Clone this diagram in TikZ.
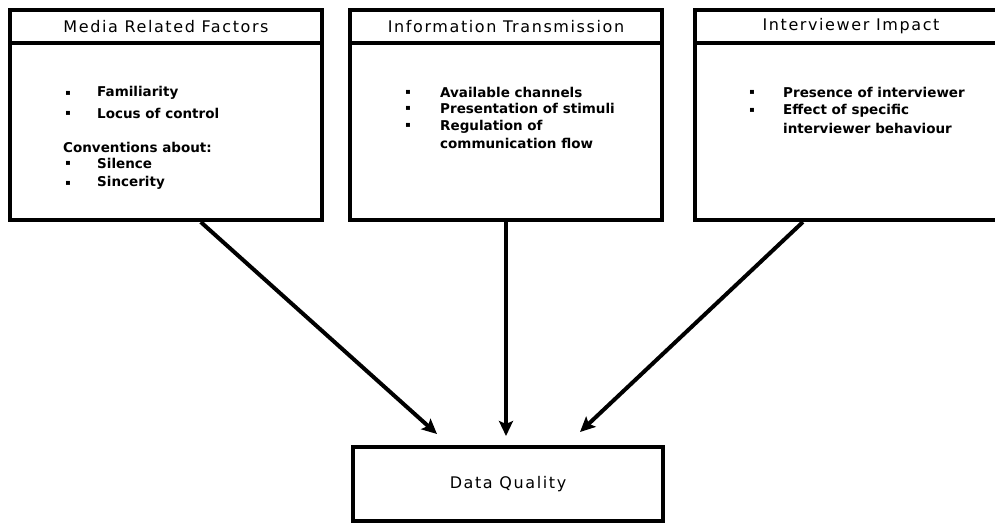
\documentclass[tikz,border=0pt]{standalone}
\usepackage{fontspec}
\setmainfont{DejaVu Sans}
\newfontfamily\headfont[LetterSpace=10]{DejaVu Sans}
\usetikzlibrary{arrows.meta}

\tikzset{
    box/.style={draw, line width=4pt, rectangle, inner sep=0pt},
    head/.style={box, minimum width=312pt, minimum height=33pt, font=\headfont\fontsize{16}{18}\selectfont},
    body/.style={box, minimum width=312pt, minimum height=177pt},
    item/.style={anchor=west, inner sep=0pt, align=left, font=\bfseries\fontsize{13.5}{18.5}\selectfont},
    dot/.style={inner sep=0pt, font=\fontsize{8}{8}\selectfont},
    flow/.style={line width=4pt, -{Stealth[length=15pt,width=14pt,inset=3pt]}}
}

\begin{document}
\begin{tikzpicture}[x=1pt, y=-1pt]
    \useasboundingbox (0,0) rectangle (995,523);

    \node[head] (mrfH) at (166, 26.5) {Media Related Factors};
    \node[body] (mrf) at (166, 131.5) {};
    \node[dot] (d0) at (68, 93) {▪};
    \node[item] (f0) at (97, 93) {Familiarity};
    \node[dot] (d1) at (68, 113) {▪};
    \node[item] (f1) at (97, 113) {Locus of control};
    \node[item] (f2) at (63, 147) {Conventions about:};
    \node[dot] (d2) at (68, 163) {▪};
    \node[item] (f3) at (97, 163) {Silence};
    \node[dot] (d3) at (68, 183) {▪};
    \node[item] (f4) at (97, 183) {Sincerity};

    \node[head] (itH) at (506, 26.5) {Information Transmission};
    \node[body] (it) at (506, 131.5) {};
    \node[dot] (d4) at (408, 92) {▪};
    \node[item] (t0) at (440, 92) {Available channels};
    \node[dot] (d5) at (408, 108) {▪};
    \node[item] (t1) at (440, 108) {Presentation of stimuli};
    \node[dot] (d6) at (408, 125) {▪};
    \node[item] (t2) at (440, 134.5) {Regulation of\\communication flow};

    \node[head] (iiH) at (851, 26.5) {Interviewer Impact};
    \node[body] (ii) at (851, 131.5) {};
    \node[dot] (d7) at (752, 92) {▪};
    \node[item] (v0) at (783, 92) {Presence of interviewer};
    \node[dot] (d8) at (752, 110) {▪};
    \node[item] (v1) at (783, 119) {Effect of specific\\interviewer behaviour};

    \node[box, minimum width=310pt, minimum height=74pt, font=\headfont\fontsize{16}{18}\selectfont] (dq) at (508, 484) {Data Quality};

    \draw[flow] (mrf.-69) -- ([xshift=-71pt, yshift=11pt]dq.north);
    \draw[flow] (it.south) -- ([yshift=9pt]it.south |- dq.north);
    \draw[flow] (ii.-118.5) -- ([xshift=72pt, yshift=13pt]dq.north);
\end{tikzpicture}
\end{document}
